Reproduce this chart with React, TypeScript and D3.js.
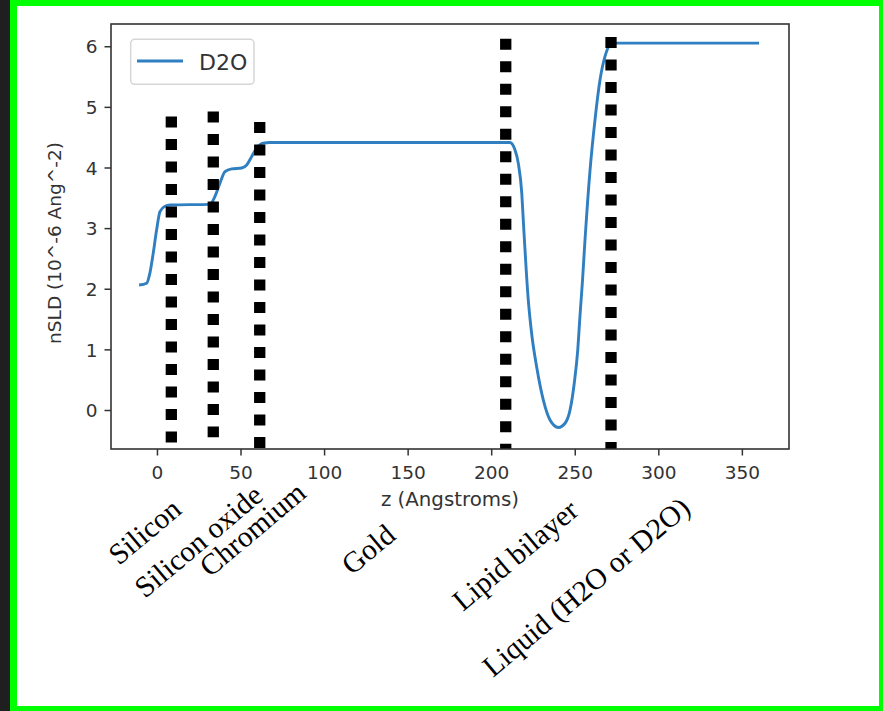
import React from "react";
import * as d3 from "d3";

// Neutron scattering length density profile across the sample stack
const profileZ = [
  -11, -6.5, -4.5, -2.5, -0.5, 1.5, 4.5, 7.5, 31.4, 34.4, 37.4, 40.4, 44.4, 50.4,
  53.4, 56.4, 59.4, 63.3, 67.3, 210.9, 213.9, 215.9, 218, 218.9, 221.9, 223.9,
  226.9, 230.9, 234.9, 239.9, 243.9, 246.9, 249.4, 251.5, 252.8, 254.3, 255.8,
  258.8, 261.8, 264.8, 267.8, 270.8, 274.8, 360,
];
const profileSLD = [
  2.07, 2.1, 2.27, 2.6, 2.98, 3.28, 3.37, 3.39, 3.4, 3.53, 3.75, 3.94, 3.985, 4.0,
  4.05, 4.19, 4.33, 4.41, 4.42, 4.42, 4.3, 4.08, 3.58, 3.14, 1.82, 1.27, 0.72,
  0.17, -0.157, -0.28, -0.21, 0.01, 0.45, 1.0, 1.55, 2.13, 2.8, 3.95, 4.79, 5.45,
  5.84, 6.03, 6.06, 6.06,
];
const seriesName = "D2O";

// Layer interfaces (z) and the vertical extent of each marker
const interfaceZ = [8.3, 33.4, 61.2, 208.4, 271.4];
const interfaceTop = [4.85, 4.93, 4.76, 6.13, 6.16];
const interfaceBottom = [-0.53, -0.44, -0.62, -1, -1];

const layerNames = [
  "Silicon",
  "Silicon oxide",
  "Chromium",
  "Gold",
  "Lipid bilayer",
  "Liquid (H2O or D2O)",
];

const xTicks = [0, 50, 100, 150, 200, 250, 300, 350];
const yTicks = [0, 1, 2, 3, 4, 5, 6];
const xLabel = "z (Angstroms)";
const yLabel = "nSLD (10^-6 Ang^-2)";

// Figure layout
const W = 883;
const H = 711;
const plot = { left: 111, right: 789, top: 24, bottom: 449 };
const xDomain: [number, number] = [-27.8, 377.9];
const yDomain: [number, number] = [-0.635, 6.375];
const labelAnchors: [number, number][] = [
  [119, 566],
  [145, 599],
  [210, 578],
  [352, 576],
  [463, 612],
  [493, 678],
];

const sans = "DejaVu Sans, sans-serif";
const serif = "Liberation Serif, Times New Roman, serif";

export default function App() {
  const x = d3.scaleLinear().domain(xDomain).range([plot.left, plot.right]);
  const y = d3.scaleLinear().domain(yDomain).range([plot.bottom, plot.top]);

  const points: [number, number][] = profileZ.map((z, i) => [z, profileSLD[i]]);
  const line = d3
    .line<[number, number]>()
    .x((d) => x(d[0]))
    .y((d) => y(d[1]))
    .curve(d3.curveMonotoneX);

  const axisColor = "#333";
  const tickLen = 6.5;

  return (
    <svg
      width={W}
      height={H}
      style={{ position: "absolute", left: 0, top: 0, display: "block" }}
    >
      <defs>
        <clipPath id="plotClip">
          <rect
            x={plot.left}
            y={plot.top}
            width={plot.right - plot.left}
            height={plot.bottom - plot.top}
          />
        </clipPath>
      </defs>

      {/* frame */}
      <rect x={0} y={0} width={W} height={H} fill="#1f1f1f" />
      <rect x={10} y={0} width={W - 10} height={H} fill="#00ff00" />
      <rect x={17} y={6} width={879 - 17} height={706 - 6} fill="#ffffff" />

      {/* profile curve and interface markers */}
      <g clipPath="url(#plotClip)">
        <path
          d={line(points) ?? ""}
          fill="none"
          stroke="#2f7fc1"
          strokeWidth={2.9}
          strokeLinejoin="round"
        />
        {interfaceZ.map((z, i) => (
          <line
            key={i}
            x1={x(z)}
            x2={x(z)}
            y1={y(interfaceTop[i])}
            y2={y(interfaceBottom[i])}
            stroke="#000"
            strokeWidth={11.3}
            strokeDasharray="11 11.5"
          />
        ))}
      </g>

      {/* axes box */}
      <rect
        x={plot.left}
        y={plot.top}
        width={plot.right - plot.left}
        height={plot.bottom - plot.top}
        fill="none"
        stroke={axisColor}
        strokeWidth={1.6}
      />

      {/* x ticks */}
      {xTicks.map((t) => (
        <g key={`x${t}`}>
          <line
            x1={x(t)}
            x2={x(t)}
            y1={plot.bottom}
            y2={plot.bottom + tickLen}
            stroke={axisColor}
            strokeWidth={1.5}
          />
          <text
            x={x(t)}
            y={479}
            textAnchor="middle"
            fontFamily={sans}
            fontSize={18.5}
            fill="#333"
          >
            {t}
          </text>
        </g>
      ))}

      {/* y ticks */}
      {yTicks.map((t) => (
        <g key={`y${t}`}>
          <line
            x1={plot.left - tickLen}
            x2={plot.left}
            y1={y(t)}
            y2={y(t)}
            stroke={axisColor}
            strokeWidth={1.5}
          />
          <text
            x={97.5}
            y={y(t)}
            dy="0.36em"
            textAnchor="end"
            fontFamily={sans}
            fontSize={18.5}
            fill="#333"
          >
            {t}
          </text>
        </g>
      ))}

      {/* axis labels */}
      <text
        x={(plot.left + plot.right) / 2}
        y={506}
        textAnchor="middle"
        fontFamily={sans}
        fontSize={19.8}
        fill="#333"
      >
        {xLabel}
      </text>
      <text
        transform={`translate(61, 243) rotate(-90)`}
        textAnchor="middle"
        fontFamily={sans}
        fontSize={18.5}
        fill="#333"
      >
        {yLabel}
      </text>

      {/* legend */}
      <rect
        x={130.7}
        y={39.3}
        width={123.3}
        height={45}
        rx={4}
        fill="#fff"
        fillOpacity={0.8}
        stroke="#d6d6d6"
        strokeWidth={1.5}
      />
      <line
        x1={137}
        x2={183}
        y1={61}
        y2={61}
        stroke="#2f7fc1"
        strokeWidth={2.9}
      />
      <text x={199} y={69.5} fontFamily={sans} fontSize={22} fill="#333">
        {seriesName}
      </text>

      {/* layer names */}
      {layerNames.map((name, i) => (
        <text
          key={name}
          transform={`translate(${labelAnchors[i][0]}, ${labelAnchors[i][1]}) rotate(-40)`}
          fontFamily={serif}
          fontSize={29.5}
          fill="#000"
        >
          {name}
        </text>
      ))}
    </svg>
  );
}
